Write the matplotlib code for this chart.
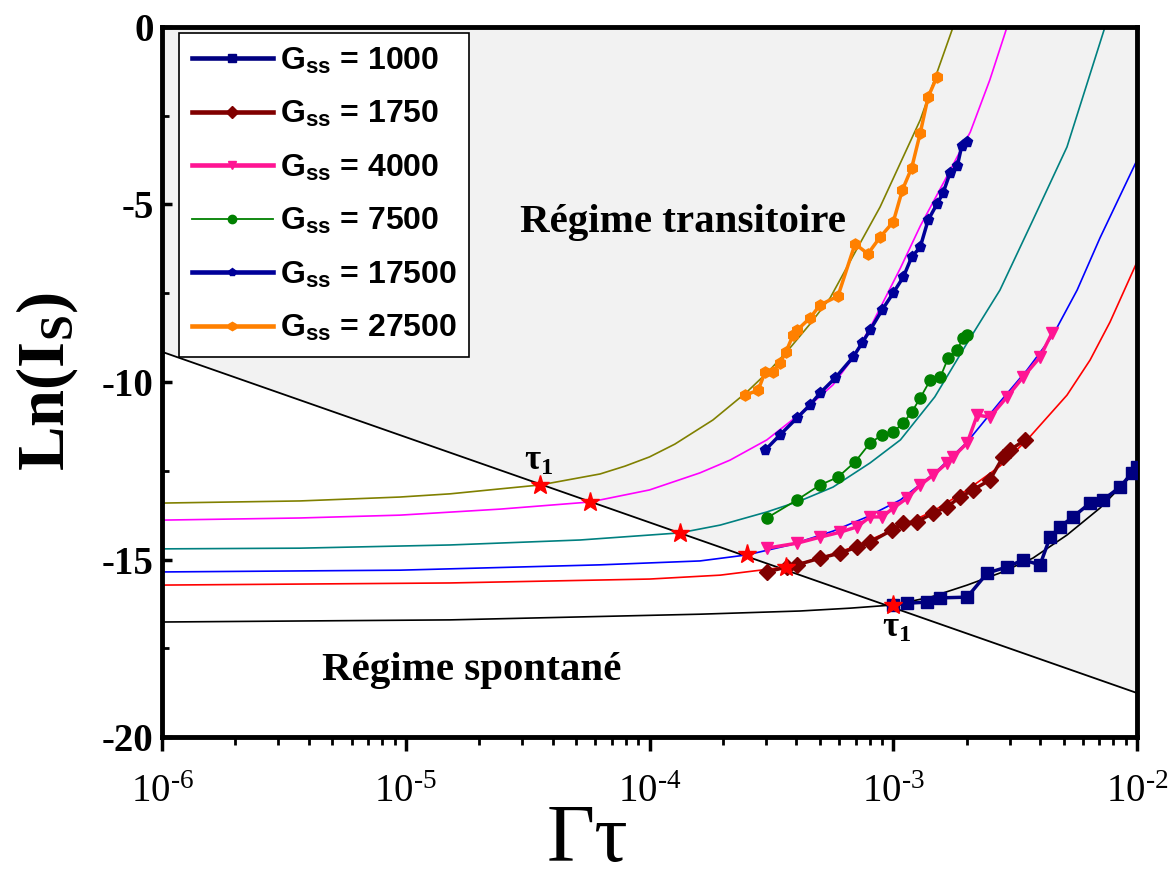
import numpy as np
import matplotlib
matplotlib.use('Agg')
import matplotlib.pyplot as plt
from matplotlib.lines import Line2D
from matplotlib.ticker import LogLocator, NullFormatter, FuncFormatter, MultipleLocator

plt.rcParams['mathtext.fontset'] = 'custom'
plt.rcParams['mathtext.rm'] = 'Liberation Serif'
plt.rcParams['mathtext.it'] = 'Liberation Serif:italic'
plt.rcParams['mathtext.bf'] = 'Liberation Serif:bold'
plt.rcParams['mathtext.sf'] = 'Liberation Sans:bold'

# ---------------- data ----------------
# boundary line between the two regimes
diag_x = [1e-6, 1e-2]
diag_y = [-9.15, -18.76]

# theoretical curves
th_olive_x = [1e-6, 3.68e-6, 9.46e-6, 1.52e-5, 2.44e-5, 3.56e-5, 6.27e-5, 7.93e-5,
              1.0e-4, 1.27e-4, 1.82e-4, 2.51e-4, 3.12e-4, 3.77e-4, 4.55e-4, 5.51e-4,
              6.84e-4, 8.83e-4, 1.29e-3, 1.76e-3]
th_olive_y = [-13.41, -13.35, -13.24, -13.15, -13.01, -12.90, -12.59, -12.37,
              -12.11, -11.75, -11.07, -10.28, -9.66, -9.04, -8.37, -7.63,
              -6.45, -5.07, -2.62, 0.0]

th_magenta_x = [1e-6, 3.68e-6, 9.46e-6, 2.44e-5, 5.70e-5, 1.0e-4, 1.61e-4, 2.14e-4,
                3.03e-4, 4.14e-4, 5.66e-4, 6.84e-4, 8.26e-4, 1.07e-3, 1.29e-3,
                1.63e-3, 2.07e-3, 2.49e-3, 2.93e-3]
th_magenta_y = [-13.89, -13.83, -13.75, -13.58, -13.38, -13.04, -12.56, -12.20,
                -11.63, -10.90, -10.08, -9.32, -8.31, -6.79, -5.61,
                -4.31, -2.96, -1.49, 0.0]

th_teal_x = [1e-6, 3.68e-6, 1.52e-5, 5.19e-5, 1.33e-4, 1.95e-4, 3.03e-4, 4.14e-4,
             5.66e-4, 8.03e-4, 1.07e-3, 1.48e-3, 2.01e-3, 2.74e-3, 3.74e-3,
             5.16e-3, 7.39e-3]
th_teal_y = [-14.70, -14.68, -14.59, -14.45, -14.25, -14.03, -13.66, -13.35,
             -12.96, -12.28, -11.63, -10.42, -8.90, -7.41, -5.44,
             -3.38, 0.0]

th_blue_x = [1e-6, 9.46e-6, 6.27e-5, 1.61e-4, 2.51e-4, 3.77e-4, 5.66e-4, 7.80e-4,
             1.07e-3, 1.48e-3, 2.01e-3, 2.74e-3, 3.54e-3, 4.52e-3, 5.68e-3,
             7.05e-3, 1e-2]
th_blue_y = [-15.35, -15.30, -15.15, -15.04, -14.87, -14.59, -14.20, -13.80,
             -13.32, -12.56, -11.69, -10.56, -9.66, -8.68, -7.41,
             -5.94, -3.75]

th_red_x = [1e-6, 1.52e-5, 1.0e-4, 1.95e-4, 3.63e-4, 5.01e-4, 6.65e-4, 1.07e-3,
            1.48e-3, 2.01e-3, 2.74e-3, 3.54e-3, 5.16e-3, 6.42e-3, 7.75e-3, 1e-2]
th_red_y = [-15.72, -15.66, -15.55, -15.44, -15.21, -14.96, -14.68, -14.08,
            -13.61, -13.04, -12.37, -11.63, -10.37, -9.38, -8.31, -6.62]

th_black_x = [1e-6, 1.52e-5, 1.61e-4, 4.14e-4, 6.65e-4, 1.0e-3, 1.42e-3, 2.01e-3,
              2.74e-3, 3.74e-3, 5.16e-3, 7.05e-3, 1e-2]
th_black_y = [-16.76, -16.70, -16.54, -16.45, -16.37, -16.28, -16.06, -15.72,
              -15.38, -14.96, -14.31, -13.55, -12.48]

# measured series
g1000_x = [1.0e-3, 1.14e-3, 1.38e-3, 1.56e-3, 2.01e-3, 2.43e-3, 2.93e-3, 3.41e-3,
           4.0e-3, 4.40e-3, 4.83e-3, 5.46e-3, 6.42e-3, 7.26e-3, 8.51e-3, 9.53e-3, 1e-2]
g1000_y = [-16.28, -16.23, -16.20, -16.08, -16.06, -15.38, -15.21, -15.01,
           -15.15, -14.37, -14.08, -13.80, -13.41, -13.32, -12.96, -12.56, -12.39]

g1750_x = [3.03e-4, 3.66e-4, 4.03e-4, 5.01e-4, 6.05e-4, 7.10e-4, 8.03e-4, 9.88e-4,
           1.10e-3, 1.25e-3, 1.46e-3, 1.66e-3, 1.88e-3, 2.12e-3, 2.49e-3, 2.82e-3,
           3.01e-3, 3.47e-3]
g1750_y = [-15.35, -15.21, -15.15, -14.96, -14.82, -14.65, -14.51, -14.17,
           -13.97, -13.94, -13.69, -13.52, -13.24, -13.04, -12.76, -12.11,
           -11.92, -11.63]

g4000_x = [3.03e-4, 4.03e-4, 5.01e-4, 6.05e-4, 7.10e-4, 8.03e-4, 9.0e-4, 1.0e-3,
           1.14e-3, 1.29e-3, 1.46e-3, 1.66e-3, 1.76e-3, 2.01e-3, 2.21e-3, 2.49e-3,
           2.93e-3, 3.41e-3, 4.0e-3, 4.48e-3]
g4000_y = [-14.68, -14.54, -14.37, -14.23, -14.08, -13.80, -13.80, -13.55,
           -13.27, -12.90, -12.62, -12.28, -12.11, -11.72, -10.93, -10.99,
           -10.42, -9.86, -9.30, -8.62]

g7500_x = [3.03e-4, 4.03e-4, 5.01e-4, 5.93e-4, 6.97e-4, 8.03e-4, 9.0e-4, 1.0e-3,
           1.10e-3, 1.19e-3, 1.29e-3, 1.42e-3, 1.56e-3, 1.68e-3, 1.83e-3, 1.93e-3, 2.01e-3]
g7500_y = [-13.83, -13.32, -12.90, -12.68, -12.25, -11.72, -11.49, -11.41,
           -11.15, -10.85, -10.45, -9.94, -9.86, -9.32, -9.10, -8.76, -8.68]

g17500_x = [2.98e-4, 3.43e-4, 4.03e-4, 4.55e-4, 5.01e-4, 5.77e-4, 6.84e-4, 7.45e-4,
            8.03e-4, 9.0e-4, 1.0e-3, 1.10e-3, 1.19e-3, 1.29e-3, 1.39e-3, 1.51e-3,
            1.60e-3, 1.71e-3, 1.83e-3, 1.91e-3, 2.01e-3]
g17500_y = [-11.92, -11.49, -11.01, -10.65, -10.31, -9.89, -9.30, -8.90,
            -8.54, -7.97, -7.49, -7.04, -6.48, -6.20, -5.44, -4.99,
            -4.68, -4.11, -3.92, -3.35, -3.24]

g27500_x = [2.47e-4, 2.79e-4, 2.98e-4, 3.21e-4, 3.43e-4, 3.63e-4, 3.88e-4, 4.03e-4,
            4.55e-4, 5.01e-4, 5.93e-4, 6.97e-4, 7.87e-4, 8.83e-4, 1.0e-3, 1.09e-3,
            1.19e-3, 1.29e-3, 1.39e-3, 1.51e-3]
g27500_y = [-10.37, -10.23, -9.72, -9.72, -9.46, -9.15, -8.68, -8.54,
            -8.20, -7.83, -7.58, -6.11, -6.39, -5.92, -5.49, -4.59,
            -3.97, -2.99, -1.97, -1.41]

# threshold points tau_1 (red stars)
star_x = [3.56e-5, 5.70e-5, 1.33e-4, 2.51e-4, 3.63e-4, 1.0e-3]
star_y = [-12.90, -13.38, -14.25, -14.85, -15.21, -16.28]

legend_labels = ['1000', '1750', '4000', '7500', '17500', '27500']

# ---------------- figure ----------------
fig = plt.figure(figsize=(11.74, 8.81), dpi=100)
ax = fig.add_axes([0.138, 0.1634, 0.8305, 0.806])
ax.set_xscale('log')
ax.set_xlim(1e-6, 1e-2)
ax.set_ylim(-20, 0)

# shaded transient region (above boundary line)
ax.fill_between(diag_x, diag_y, [0, 0], color='#f2f2f2', zorder=0, linewidth=0)
ax.plot(diag_x, diag_y, color='black', lw=1.3, zorder=2)

th_lw = 1.2
ax.plot(th_black_x, th_black_y, color='black', lw=th_lw, zorder=2)
ax.plot(th_red_x, th_red_y, color='#ff0000', lw=th_lw, zorder=2)
ax.plot(th_blue_x, th_blue_y, color='#0000ff', lw=th_lw, zorder=2)
ax.plot(th_teal_x, th_teal_y, color='#008080', lw=th_lw, zorder=2)
ax.plot(th_magenta_x, th_magenta_y, color='#ff00ff', lw=th_lw, zorder=2)
ax.plot(th_olive_x, th_olive_y, color='#808000', lw=th_lw, zorder=2)

series = [
    (g1000_x, g1000_y, '#000080', 's', 2.5),
    (g1750_x, g1750_y, '#800000', 'D', 2.5),
    (g4000_x, g4000_y, '#ff1493', 'v', 2.5),
    (g7500_x, g7500_y, '#008000', 'o', 1.3),
    (g17500_x, g17500_y, '#000099', 'p', 2.5),
    (g27500_x, g27500_y, '#ff8000', 'h', 2.5),
]
handles = []
for (sx, sy, col, mk, lw), lab in zip(series, legend_labels):
    ax.plot(sx, sy, color=col, marker=mk, lw=lw, markersize=8, zorder=3)
    handles.append(Line2D([], [], color=col, marker=mk, lw=lw + 0.8 if lw > 2 else lw,
                          markersize=6, label='G$_{\\mathsf{ss}}$ = ' + lab))

ax.plot(star_x, star_y, linestyle='none', marker='*', color='#ff0000',
        markersize=14, zorder=4)

leg = ax.legend(handles=handles, loc='upper left', bbox_to_anchor=(0.0174, 0.9915),
                borderaxespad=0, frameon=True, fancybox=False, framealpha=1,
                edgecolor='black', facecolor='white', handlelength=2.55,
                handletextpad=0.2, labelspacing=0.72, borderpad=0.4,
                prop={'family': 'Liberation Sans', 'weight': 'bold', 'size': 23})
leg.get_frame().set_linewidth(1.2)

# annotations
ax.text(0.534, 0.725, 'Régime transitoire', transform=ax.transAxes,
        ha='center', va='center', family='Liberation Serif', weight='bold', size=29.5)
ax.text(0.318, 0.094, 'Régime spontané', transform=ax.transAxes,
        ha='center', va='center', family='Liberation Serif', weight='bold', size=29.5)
ax.text(3.5e-5, -12.25, 'τ$_\\mathbf{1}$', ha='center', va='center',
        family='Liberation Serif', weight='bold', size=25)
ax.text(1.03e-3, -16.95, 'τ$_\\mathbf{1}$', ha='center', va='center',
        family='Liberation Serif', weight='bold', size=25)

# axes styling
for sp in ax.spines.values():
    sp.set_linewidth(3.5)

ax.xaxis.set_major_locator(LogLocator(base=10, numticks=10))
ax.xaxis.set_minor_locator(LogLocator(base=10, subs=np.arange(2, 10), numticks=10))
ax.xaxis.set_minor_formatter(NullFormatter())
ax.xaxis.set_major_formatter(FuncFormatter(
    lambda v, p: '$\\mathrm{10}^{\\text{-%d}}$' % abs(round(np.log10(v)))))
ax.yaxis.set_major_locator(MultipleLocator(5))
ax.yaxis.set_minor_locator(MultipleLocator(2.5))
ax.yaxis.set_major_formatter(FuncFormatter(lambda v, p: '%d' % v))

ax.tick_params(axis='x', which='major', direction='out', length=10, width=2.5,
               pad=15, labelsize=28, top=False)
ax.tick_params(axis='x', which='minor', direction='out', length=6, width=2.0, top=False)
ax.tick_params(axis='y', which='major', direction='in', length=7, width=2.5,
               pad=6, labelsize=28, right=False)
ax.tick_params(axis='y', which='minor', direction='in', length=5, width=2.0, right=False)
for lab in ax.get_yticklabels():
    lab.set_family('Liberation Serif')
    lab.set_weight('bold')

ax.set_xlabel('Γτ', family='Liberation Serif', size=60)
ax.xaxis.label.set_va('baseline')
ax.xaxis.set_label_coords(0.436, -0.175)
ax.set_ylabel('$\\mathbf{Ln(I_S)}$', size=48, labelpad=16)

fig.savefig('out.png', dpi=100)
